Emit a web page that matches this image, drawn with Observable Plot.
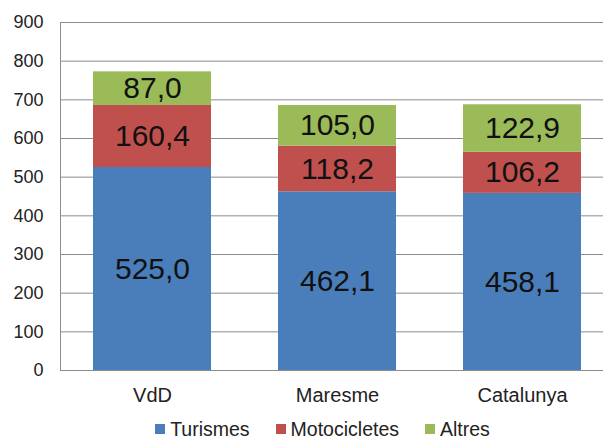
<!DOCTYPE html>
<html>
<head>
<meta charset="utf-8">
<script src="https://cdn.jsdelivr.net/npm/d3@7"></script>
<script src="https://cdn.jsdelivr.net/npm/@observablehq/plot@0.6"></script>
<style>
  body { margin: 0; background: #fff; font-family: "Liberation Sans", Arial, sans-serif; overflow: hidden; }
  #legend { height: 31px; display: flex; justify-content: center; align-items: flex-start; padding-top: 9px; padding-left: 42px; box-sizing: border-box; font-size: 19.5px; color: #222; line-height: 20px; }
  #legend span.item { display: inline-flex; align-items: center; margin: 0 13px; }
  #legend span.sw { display: inline-block; width: 10px; height: 10px; margin-right: 5px; }
</style>
</head>
<body>
<div id="chart"></div>
<div id="legend"></div>
<script>
const categories = ["VdD", "Maresme", "Catalunya"];
const seriesNames = ["Turismes", "Motocicletes", "Altres"];
const turismes = [525.0, 462.1, 458.1];
const motocicletes = [160.4, 118.2, 106.2];
const altres = [87.0, 105.0, 122.9];
const yTicks = [0, 100, 200, 300, 400, 500, 600, 700, 800, 900];
const colors = ["#4a7ebb", "#c0504d", "#9bbb59"];

const seriesValues = [turismes, motocicletes, altres];
const rows = [];
categories.forEach((c, i) => {
  seriesNames.forEach((s, j) => rows.push({cat: c, series: s, value: seriesValues[j][i]}));
});
const fmt = v => d3.format(".1f")(v).replace(".", ",");

const chart = Plot.plot({
  width: 603,
  height: 410,
  marginTop: 22,
  marginBottom: 40,
  marginLeft: 60,
  marginRight: 0,
  style: {fontFamily: "'Liberation Sans', Arial, sans-serif", fontSize: "18px", color: "#222", background: "#fff"},
  x: {domain: categories, range: [60, 615], paddingInner: 0.36, paddingOuter: 0.18, label: null},
  y: {domain: [0, 900], label: null},
  color: {domain: seriesNames, range: colors},
  marks: [
    Plot.ruleY(yTicks, {stroke: "#8c8c8c", strokeWidth: 1}),
    Plot.barY(rows, {x: "cat", y: "value", fill: "series"}),
    Plot.text(rows, Plot.stackY({x: "cat", y: "value", z: "series", text: d => fmt(d.value), fontSize: 30, fill: "#111"})),
    Plot.axisY({ticks: yTicks, tickSize: 0, tickPadding: 17, fontSize: 18, tickFormat: d => d, label: null}),
    Plot.axisX({tickSize: 0, tickPadding: 17, fontSize: 20, label: null}),
    Plot.ruleY([0], {stroke: "#8c8c8c"})
  ]
});
document.getElementById("chart").appendChild(chart);

// left axis line
const svg = d3.select(chart);
svg.append("line").attr("x1", 60.5).attr("x2", 60.5).attr("y1", 22).attr("y2", 370).attr("stroke", "#8c8c8c");

const legend = document.getElementById("legend");
seriesNames.forEach((s, i) => {
  const item = document.createElement("span");
  item.className = "item";
  const sw = document.createElement("span");
  sw.className = "sw";
  sw.style.background = colors[i];
  item.appendChild(sw);
  item.appendChild(document.createTextNode(s));
  legend.appendChild(item);
});
</script>
</body>
</html>
